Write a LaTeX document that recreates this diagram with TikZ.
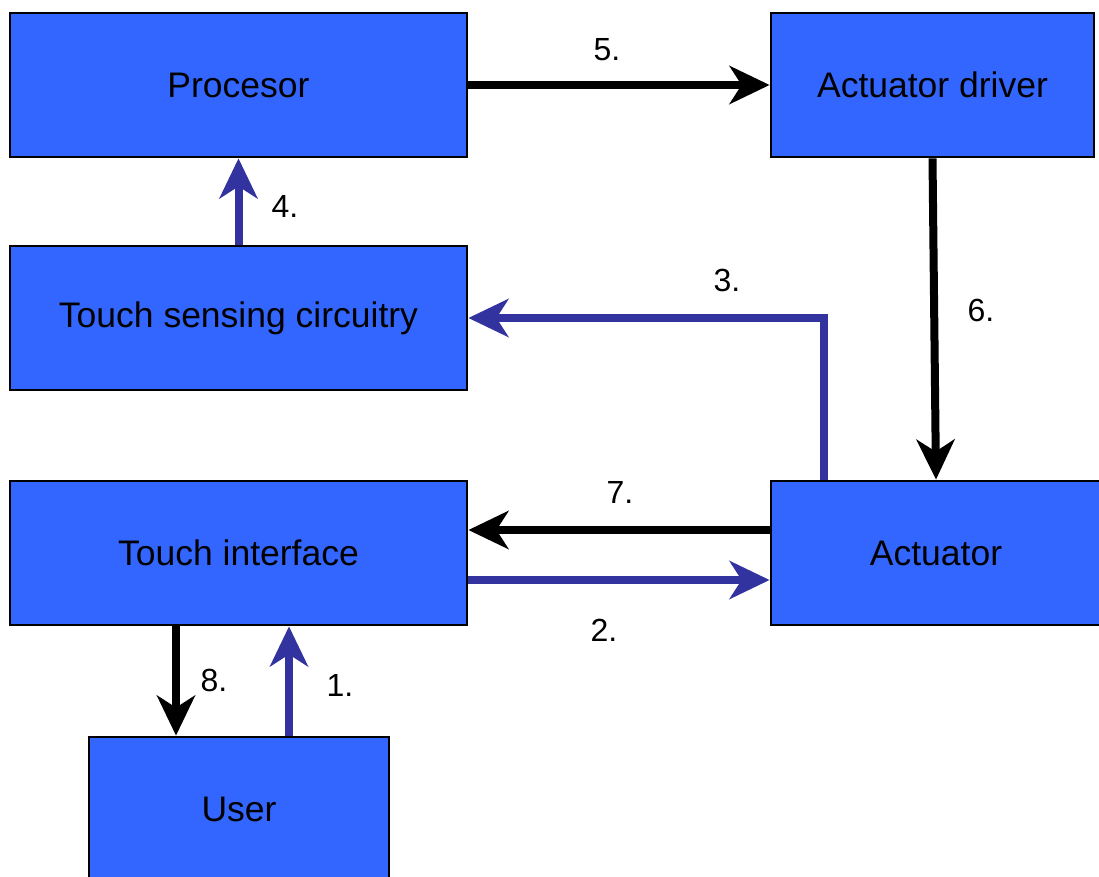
\documentclass[tikz,border=0pt]{standalone}
\usepackage{fontspec}
\setmainfont{Liberation Sans}
\usetikzlibrary{arrows.meta}
\definecolor{boxblue}{HTML}{3366FF}
\definecolor{arrblue}{HTML}{33339F}
\tikzset{
  block/.style={draw=black, line width=2.8pt, fill=boxblue, minimum height=144pt, inner sep=0pt,
    font=\fontsize{35.5}{42}\selectfont},
  conn/.style={line width=8pt, -{Stealth[length=40pt, width=38pt, inset=12pt]}},
  blk/.style={conn, draw=black},
  blu/.style={conn, draw=arrblue},
  lbl/.style={font=\fontsize{32}{38}\selectfont, inner sep=0pt}
}
\begin{document}
\begin{tikzpicture}[x=1pt, y=-1pt]
\useasboundingbox (0,0) rectangle (1099,877);
\node[block, minimum width=457pt] (proc) at (238.5,85) {Procesor};
\node[block, minimum width=323pt] (ad) at (932.5,85) {Actuator driver};
\node[block, minimum width=457pt] (tsc) at (238.5,318) {Touch sensing circuitry};
\node[block, minimum width=457pt] (ti) at (238.5,553) {Touch interface};
\node[block, minimum width=330pt] (act) at (936,553) {Actuator};
\node[block, minimum width=300pt, text depth=0pt] (user) at (239,809) {User};

\draw[blk] (proc.east) -- (ad.west);
\draw[blk] (ad.south) -- (act.north);
\draw[blu] ([xshift=54pt]act.north west) |- (tsc.east);
\draw[blu] (tsc.north) -- (proc.south);
\draw[blk] ([yshift=23pt]act.west) -- ([yshift=23pt]ti.east);
\draw[blu] ([yshift=-27pt]ti.east) -- ([yshift=-27pt]act.west);
\draw[blk] ([xshift=-62.5pt]ti.south) -- ([xshift=-63pt]user.north);
\draw[blu] ([xshift=50pt]user.north) -- ([xshift=50.5pt]ti.south);

\node[lbl] (l5) at (607,50) {5.};
\node[lbl] (l6) at (981,310) {6.};
\node[lbl] (l3) at (727,280) {3.};
\node[lbl] (l4) at (285,206) {4.};
\node[lbl] (l7) at (620,492) {7.};
\node[lbl] (l2) at (604,630) {2.};
\node[lbl] (l8) at (214,680) {8.};
\node[lbl] (l1) at (340,685) {1.};
\end{tikzpicture}
\end{document}
